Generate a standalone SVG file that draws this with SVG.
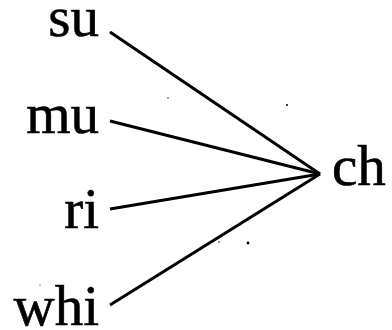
<svg xmlns="http://www.w3.org/2000/svg" width="392" height="330" viewBox="0 0 392 330">
<style>
text{font-family:"Liberation Serif","Times New Roman",serif;font-size:57px;fill:#000;stroke:#000;stroke-width:0.6}
.l{text-anchor:end}
.c{stroke:#000;stroke-width:3;fill:none;stroke-linecap:butt}
.d{fill:#000}
</style>
<rect width="392" height="330" fill="#fff"/>
<g id="su"><text class="l" x="99" y="36">su</text></g>
<g id="mu"><text class="l" x="99" y="133">mu</text></g>
<g id="ri"><text class="l" x="99" y="228">ri</text></g>
<g id="whi"><text class="l" x="99" y="325">whi</text></g>
<g id="ch"><text x="332" y="185">ch</text></g>
<g id="connectors">
<line class="c" x1="110" y1="32" x2="320" y2="174"/>
<line class="c" x1="110" y1="121" x2="320" y2="174"/>
<line class="c" x1="110" y1="209" x2="320" y2="174"/>
<line class="c" x1="110" y1="305" x2="320" y2="174"/>
</g>
<g id="dots">
<circle class="d" cx="168" cy="98" r="0.7"/>
<circle class="d" cx="287" cy="105" r="1"/>
<circle class="d" cx="248" cy="243" r="1.4"/>
<circle class="d" cx="219" cy="242" r="0.8"/>
<circle class="d" cx="40" cy="285" r="0.6"/>
</g>
</svg>
